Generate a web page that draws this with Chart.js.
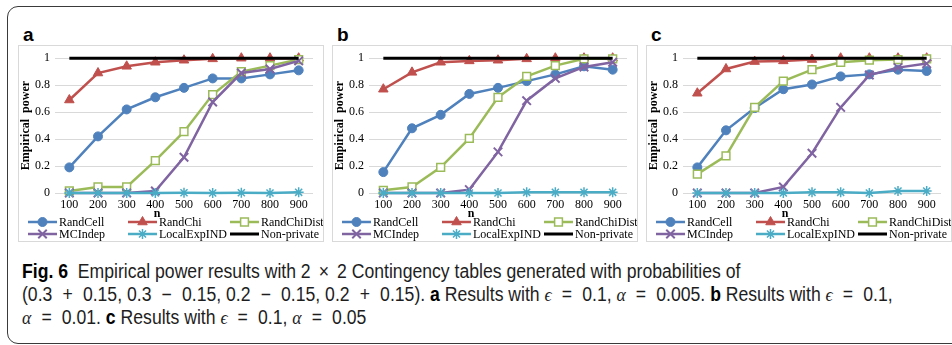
<!DOCTYPE html>
<html>
<head>
<meta charset="utf-8">
<script src="https://cdn.jsdelivr.net/npm/chart.js@4/dist/chart.umd.min.js"></script>
<style>
  html, body { margin: 0; padding: 0; background: #fff; }
  body { width: 952px; height: 345px; position: relative; overflow: hidden; }
  .frame {
    position: absolute; left: 7px; top: 6px; width: 960px; height: 338px;
    border: 1.5px solid #3a3a3a; border-radius: 11px; box-sizing: border-box;
  }
  .panel {
    position: absolute; top: 45px; width: 306px; height: 197px;
    border: 1px solid #d9d9d9; box-sizing: border-box;
  }
  .panel canvas { display: block; }
  .tag {
    position: absolute; top: 24px;
    font: bold 19px "Liberation Sans", Arial, sans-serif; color: #000;
  }
  .caption {
    position: absolute; left: 22px; top: 260px; white-space: nowrap;
    font-family: "Liberation Sans", Arial, sans-serif;
    font-size: 19.5px; line-height: 22.5px; color: #1e1e1e;
  }
  .caption div { transform: scaleX(0.903); transform-origin: 0 0; }
  .caption b { font-weight: bold; color: #000; }
  .caption i { font-family: "Liberation Serif", serif; }
  .caption .op { margin: 0 5.8px; }
  .caption .times { margin: 0 3.5px; }
</style>
</head>
<body>
<div class="frame"></div>

<div class="tag" style="left:23px">a</div>
<div class="tag" style="left:337px">b</div>
<div class="tag" style="left:651px">c</div>

<div class="panel" style="left:18px"><canvas id="chartA" width="304" height="195"></canvas></div>
<div class="panel" style="left:332px"><canvas id="chartB" width="304" height="195"></canvas></div>
<div class="panel" style="left:646px"><canvas id="chartC" width="304" height="195"></canvas></div>

<div class="caption">
  <div><b>Fig. 6</b>&nbsp; Empirical power results with 2 <span class="times">×</span> 2 Contingency tables generated with probabilities of</div>
  <div>(0.3 <span class="op">+</span> 0.15, 0.3 <span class="op">−</span> 0.15, 0.2 <span class="op">−</span> 0.15, 0.2 <span class="op">+</span> 0.15). <b>a</b> Results with <i>ϵ</i> <span class="op">=</span> 0.1, <i>α</i> <span class="op">=</span> 0.005. <b>b</b> Results with <i>ϵ</i> <span class="op">=</span> 0.1,</div>
  <div><i>α</i> <span class="op">=</span> 0.01. <b>c</b> Results with <i>ϵ</i> <span class="op">=</span> 0.1, <i>α</i> <span class="op">=</span> 0.05</div>
</div>

<script>
// sample sizes on the x axis
const nLabels = ['100', '200', '300', '400', '500', '600', '700', '800', '900'];

const seriesNames = ['RandCell', 'RandChi', 'RandChiDist', 'MCIndep', 'LocalExpIND', 'Non-private'];

// panel a: eps = 0.1, alpha = 0.005
const randCellA    = [0.19, 0.42, 0.62, 0.71, 0.78, 0.85, 0.85, 0.88, 0.91];
const randChiA     = [0.69, 0.89, 0.94, 0.97, 0.985, 0.995, 1, 1, 1];
const randChiDistA = [0.015, 0.045, 0.045, 0.24, 0.455, 0.73, 0.9, 0.945, 0.99];
const mcIndepA     = [0, 0, 0, 0.015, 0.265, 0.675, 0.89, 0.92, 0.98];
const localExpA    = [0, 0, 0, 0, 0.002, 0, 0.002, 0, 0.005];

// panel b: eps = 0.1, alpha = 0.01
const randCellB    = [0.155, 0.48, 0.58, 0.735, 0.78, 0.83, 0.88, 0.94, 0.915];
const randChiB     = [0.77, 0.895, 0.97, 0.98, 0.985, 0.995, 1, 1, 1];
const randChiDistB = [0.02, 0.045, 0.19, 0.405, 0.71, 0.865, 0.945, 0.995, 0.995];
const mcIndepB     = [0, 0, 0, 0.025, 0.305, 0.685, 0.85, 0.935, 0.97];
const localExpB    = [0, 0, 0, 0, 0, 0.005, 0.005, 0.005, 0.005];

// panel c: eps = 0.1, alpha = 0.05
const randCellC    = [0.19, 0.465, 0.63, 0.77, 0.805, 0.865, 0.88, 0.915, 0.905];
const randChiC     = [0.74, 0.92, 0.975, 0.98, 0.99, 1, 1, 1, 1];
const randChiDistC = [0.14, 0.275, 0.635, 0.83, 0.915, 0.97, 0.985, 0.99, 0.995];
const mcIndepC     = [0, 0, 0, 0.045, 0.295, 0.635, 0.875, 0.93, 0.96];
const localExpC    = [0, 0, 0, 0, 0.005, 0.005, 0, 0.015, 0.015];

// the non-private test always rejects
const nonPrivate   = [1, 1, 1, 1, 1, 1, 1, 1, 1];

const yTicks = [0, 0.2, 0.4, 0.6, 0.8, 1];

const SERIF = '"Liberation Serif", "Times New Roman", serif';

// excel-ish look per series
const styles = [
  { color: '#4F81BD', pointStyle: 'circle',   radius: 4.5, fill: '#4F81BD', pbw: 1 },
  { color: '#C0504D', pointStyle: 'triangle', radius: 5.5, fill: '#C0504D', pbw: 1 },
  { color: '#9BBB59', pointStyle: 'rect',     radius: 5.5, fill: '#ffffff', pbw: 1.5 },
  { color: '#8064A2', pointStyle: 'crossRot', radius: 6,   fill: '#8064A2', pbw: 2 },
  { color: '#4BACC6', pointStyle: 'star',     radius: 5,   fill: '#4BACC6', pbw: 1.5 },
  { color: '#000000', pointStyle: false,      radius: 0,   fill: '#000000', pbw: 0 }
];

// legend with line + marker samples, 3 columns x 2 rows (also draws the "n" axis title)
const excelLegend = {
  id: 'excelLegend',
  afterDraw(chart) {
    const ctx = chart.ctx;
    const cols = [9, 109, 211];
    const rows = [176, 188];
    chart.data.datasets.forEach((ds, i) => {
      const x = cols[i % 3];
      const y = rows[Math.floor(i / 3)];
      ctx.save();
      ctx.strokeStyle = ds.borderColor;
      ctx.lineWidth = ds.borderWidth;
      ctx.beginPath();
      ctx.moveTo(x, y);
      ctx.lineTo(x + 29, y);
      ctx.stroke();
      if (ds.pointRadius > 0) {
        ctx.fillStyle = ds.pointBackgroundColor;
        ctx.strokeStyle = ds.pointBorderColor;
        ctx.lineWidth = ds.pointBorderWidth;
        Chart.helpers.drawPoint(ctx, {
          pointStyle: ds.pointStyle, radius: ds.pointRadius,
          borderWidth: ds.pointBorderWidth, rotation: 0
        }, x + 14.5, y);
      }
      ctx.fillStyle = '#000';
      ctx.font = '12px ' + SERIF;
      ctx.textBaseline = 'middle';
      ctx.textAlign = 'left';
      ctx.fillText(ds.label, x + 31, y + 0.5);
      ctx.restore();
    });

    ctx.save();
    ctx.fillStyle = '#000';
    ctx.font = 'bold 12px ' + SERIF;
    ctx.textAlign = 'center';
    ctx.textBaseline = 'middle';
    ctx.fillText('n', 138, 168);
    ctx.restore();
  }
};

function buildChart(canvasId, seriesList) {
  const datasets = seriesList.map((values, i) => {
    const s = styles[i];
    return {
      label: seriesNames[i],
      data: values,
      borderColor: s.color,
      backgroundColor: s.fill,
      borderWidth: i === 5 ? 3 : 2.5,
      pointStyle: s.pointStyle,
      pointRadius: s.radius,
      pointBackgroundColor: s.fill,
      pointBorderColor: s.color,
      pointBorderWidth: s.pbw,
      pointHoverRadius: s.radius,
      tension: 0,
      fill: false,
      clip: false,
      order: 6 - i   // later series on top, like excel
    };
  });

  const tickFont = { family: SERIF, size: 12 };

  return new Chart(document.getElementById(canvasId), {
    type: 'line',
    data: { labels: nLabels, datasets },
    options: {
      responsive: false,
      animation: false,
      devicePixelRatio: 1,
      layout: { padding: { top: 12, right: 10, bottom: 28, left: 0 } },
      plugins: {
        legend: { display: false },
        tooltip: { enabled: false }
      },
      scales: {
        x: {
          type: 'category',
          offset: true,
          grid: { display: false, drawTicks: false },
          border: { display: false },
          ticks: { font: tickFont, color: '#000', padding: 5, maxRotation: 0, autoSkip: false },
          afterFit(scale) { scale.height = 20; }
        },
        y: {
          min: 0,
          max: 1,
          afterBuildTicks(scale) { scale.ticks = yTicks.map(v => ({ value: v })); },
          ticks: { font: tickFont, color: '#000', padding: 5, callback: v => String(v) },
          grid: { color: '#d9d9d9', lineWidth: 1, drawTicks: false },
          border: { display: false },
          title: {
            display: true,
            text: 'Empirical  power',
            font: { family: SERIF, size: 12, weight: 'bold' },
            color: '#000',
            padding: 0
          },
          afterFit(scale) { scale.width = 36; }
        }
      }
    },
    plugins: [excelLegend]
  });
}

buildChart('chartA', [randCellA, randChiA, randChiDistA, mcIndepA, localExpA, nonPrivate]);
buildChart('chartB', [randCellB, randChiB, randChiDistB, mcIndepB, localExpB, nonPrivate]);
buildChart('chartC', [randCellC, randChiC, randChiDistC, mcIndepC, localExpC, nonPrivate]);
</script>
</body>
</html>
